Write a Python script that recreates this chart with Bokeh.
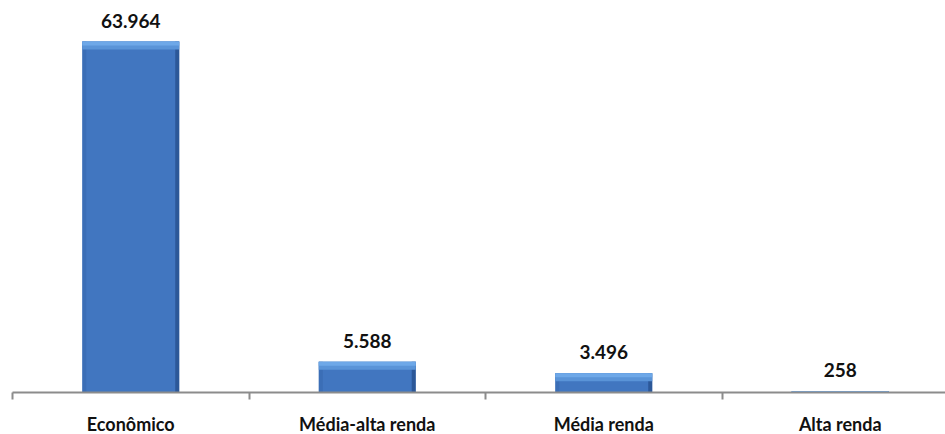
from bokeh.plotting import figure
from bokeh.models import Range1d, FixedTicker, ColumnDataSource
from bokeh.embed import file_html
from bokeh.resources import INLINE
from bokeh.core.properties import value

categories = ["Econômico", "Média-alta renda", "Média renda", "Alta renda"]
values = [63964, 5588, 3496, 258]
value_labels = ["63.964", "5.588", "3.496", "258"]

W, H = 945, 434
left_pad = 12
bottom_pad = 42
unit_px = 236.5
x_end = (W - left_pad) / unit_px
frame_h = H - bottom_pad
y_end = values[0] * frame_h / 351.0
upp = y_end / frame_h  # data units per pixel

centers = [i + 0.5 for i in range(len(categories))]
bounds = [i for i in range(len(categories) + 1)]
bar_w = 0.41

p = figure(width=W, height=H, x_range=Range1d(0, x_end), y_range=Range1d(0, y_end),
           output_backend="svg", toolbar_location=None, y_axis_location=None,
           min_border_left=left_pad, min_border_right=0, min_border_top=0,
           min_border_bottom=bottom_pad)
p.outline_line_color = None
p.xgrid.visible = False
p.ygrid.visible = False
p.background_fill_color = "white"
p.border_fill_color = "white"

src = ColumnDataSource(dict(x=centers, top=values, label=value_labels,
                            zero=[0] * len(values), cat=categories))
# bar body
p.vbar(x="x", top="top", bottom=0, width=bar_w, source=src,
       fill_color="#4176c0", line_color=None)
# left & right edge shading
edge_w = 4 * (1 / unit_px)
p.vbar(x=[c + bar_w / 2 - edge_w / 2 for c in centers], top=values, bottom=0,
       width=edge_w, fill_color="#244c88", fill_alpha=0.7, line_color=None)
p.vbar(x=[c - bar_w / 2 + edge_w / 2 for c in centers], top=values, bottom=0,
       width=edge_w, fill_color="#3566ab", fill_alpha=0.5, line_color=None)
# top bevel highlight
p.vbar(x=centers, top=values, bottom=[max(0, v - 8 * upp) for v in values],
       width=bar_w, fill_color="#5a94d8", line_color=None)
p.vbar(x=centers, top=values, bottom=[max(0, v - 4 * upp) for v in values],
       width=bar_w, fill_color="#6ea8e8", line_color=None)

# value labels
p.text(x="x", y="top", text="label", source=src, y_offset=-21,
       text_align="center", text_baseline="middle",
       text_font=value("Lato"), text_font_style="bold",
       text_font_size="19px", text_color="#111111")

# category labels (overlay level so they are drawn below the frame)
p.text(x="x", y="zero", text="cat", source=src, y_offset=31, level="overlay",
       text_align="center", text_baseline="middle",
       text_font=value("Lato"), text_font_style="bold",
       text_font_size="18px", text_color="#111111")

ax = p.xaxis[0]
ax.ticker = FixedTicker(ticks=[], minor_ticks=bounds)
ax.major_tick_out = 0
ax.major_tick_in = 0
ax.minor_tick_out = 7
ax.minor_tick_in = 0
ax.minor_tick_line_color = "#8c8c8c"
ax.minor_tick_line_width = 2
ax.axis_line_color = "#8c8c8c"
ax.axis_line_width = 2

open("out.html", "w").write(file_html(p, INLINE))
